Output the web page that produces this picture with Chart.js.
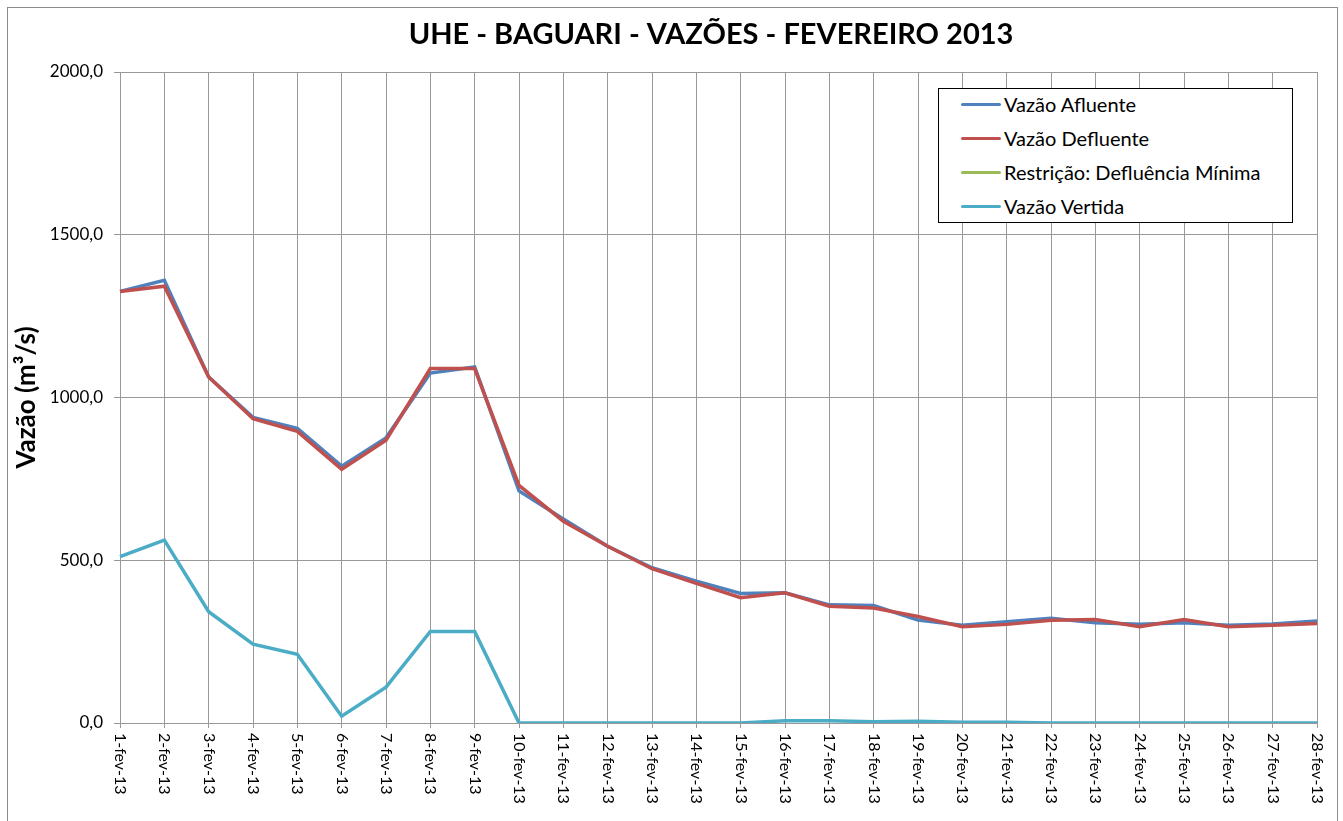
<!DOCTYPE html>
<html>
<head>
<meta charset="utf-8">
<script src="https://cdn.jsdelivr.net/npm/chart.js@4.4.1/dist/chart.umd.min.js"></script>
<style>
  body { margin: 0; background: #fff; }
  #wrap { position: relative; width: 1343px; height: 821px; overflow: hidden; }
  #legend {
    position: absolute; left: 938px; top: 88px; width: 355px; height: 135px;
    box-sizing: border-box; border: 1px solid #000; background: #fff;
    font-family: Lato, sans-serif; font-size: 20px; color: #000;
  }
  #legend .item { height: 34px; display: flex; align-items: center; }
  #legend .item:first-child { margin-top: -2px; }
  #legend .swatch { width: 40px; height: 3px; margin-left: 22px; margin-right: 3px; border-radius: 2px; }
</style>
</head>
<body>
<div id="wrap">
  <canvas id="lineChart" width="1343" height="821"></canvas>
  <div id="legend"></div>
</div>
<script>
const labels = ['1-fev-13', '2-fev-13', '3-fev-13', '4-fev-13', '5-fev-13', '6-fev-13', '7-fev-13',
  '8-fev-13', '9-fev-13', '10-fev-13', '11-fev-13', '12-fev-13', '13-fev-13', '14-fev-13',
  '15-fev-13', '16-fev-13', '17-fev-13', '18-fev-13', '19-fev-13', '20-fev-13', '21-fev-13',
  '22-fev-13', '23-fev-13', '24-fev-13', '25-fev-13', '26-fev-13', '27-fev-13', '28-fev-13'];

const afluente = [1326, 1360, 1063, 939, 905, 789, 876, 1075, 1094, 713, 627, 543, 477, 436,
  398, 400, 363, 361, 316, 300, 311, 322, 308, 303, 308, 300, 304, 313];

const defluente = [1326, 1342, 1063, 935, 896, 779, 869, 1089, 1089, 730, 620, 543, 474, 429,
  385, 400, 359, 353, 327, 296, 303, 316, 318, 296, 318, 296, 300, 306];

const restricao = [];

const vertida = [511, 562, 342, 242, 211, 21, 110, 281, 281, 0, 0, 0, 0, 0,
  0, 7, 7, 4, 5, 2, 2, 0, 0, 0, 0, 0, 0, 0];

const yTicks = [0, 500, 1000, 1500, 2000];

const titleText = 'UHE - BAGUARI - VAZÕES - FEVEREIRO 2013';
const gridColor = '#999999';
const font = 'Lato, sans-serif';

// titulo, borda externa e rotulos do eixo x (lidos de cima para baixo)
const extras = {
  id: 'extras',
  afterDraw(chart) {
    const ctx = chart.ctx;
    const xScale = chart.scales.x;
    ctx.save();
    ctx.strokeStyle = '#8c8c8c';
    ctx.lineWidth = 1;
    ctx.strokeRect(7.5, 7.5, 1330, 900);

    ctx.fillStyle = '#000';
    ctx.font = 'bold 29px ' + font;
    ctx.textAlign = 'center';
    ctx.textBaseline = 'middle';
    ctx.fillText(titleText, 711, 35);

    ctx.font = '16px ' + font;
    ctx.textAlign = 'left';
    xScale.ticks.forEach((t, i) => {
      const x = xScale.getPixelForTick(i);
      ctx.save();
      ctx.translate(x, xScale.top + 10);
      ctx.rotate(Math.PI / 2);
      ctx.fillText(labels[i], 0, 0);
      ctx.restore();
    });
    ctx.restore();
  }
};

const ctx = document.getElementById('lineChart').getContext('2d');
const chart = new Chart(ctx, {
  type: 'line',
  data: {
    labels: labels,
    datasets: [
      { label: 'Vazão Afluente', data: afluente, borderColor: '#4F81BD', order: 4 },
      { label: 'Vazão Defluente', data: defluente, borderColor: '#C0504D', order: 3 },
      { label: 'Restrição: Defluência Mínima', data: restricao, borderColor: '#9BBB59', order: 2 },
      { label: 'Vazão Vertida', data: vertida, borderColor: '#4BACC6', order: 1 }
    ].map(d => Object.assign(d, {
      borderWidth: 3.5,
      pointRadius: 0,
      tension: 0,
      fill: false,
      backgroundColor: d.borderColor
    }))
  },
  options: {
    responsive: false,
    animation: false,
    layout: {
      padding: { top: 72, right: 26, bottom: 0, left: 0 }
    },
    plugins: {
      legend: { display: false },
      tooltip: { enabled: false },
      title: { display: false }
    },
    scales: {
      x: {
        offset: false,
        grid: { color: gridColor, lineWidth: 1, drawTicks: true, tickLength: 5 },
        border: { color: gridColor, width: 1 },
        ticks: { display: false },
        afterFit: (s) => {
          s.height = 98;
          s.paddingLeft = 0;
          s.paddingRight = 0;
        }
      },
      y: {
        min: 0,
        max: 2000,
        afterBuildTicks: (s) => {
          s.ticks = yTicks.map(v => ({ value: v }));
        },
        grid: { color: gridColor, lineWidth: 1, drawTicks: true, tickLength: 6 },
        border: { color: gridColor, width: 1 },
        ticks: {
          color: '#000',
          padding: 11,
          font: { family: font, size: 17 },
          callback: (value) => value.toFixed(1).replace('.', ',')
        },
        title: {
          display: true,
          text: 'Vazão (m³/s)',
          color: '#000',
          font: { family: font, size: 26, weight: 'bold' },
          padding: { top: 11, bottom: 0 }
        },
        afterFit: (s) => {
          s.width = 120;
          s.paddingTop = 0;
          s.paddingBottom = 0;
        }
      }
    }
  },
  plugins: [extras]
});

// legenda em caixa, montada a partir dos datasets do grafico
const legendEl = document.getElementById('legend');
chart.data.datasets.forEach(ds => {
  const item = document.createElement('div');
  item.className = 'item';
  item.innerHTML = '<span class="swatch" style="background:' + ds.borderColor + '"></span><span>' + ds.label + '</span>';
  legendEl.appendChild(item);
});
</script>
</body>
</html>
